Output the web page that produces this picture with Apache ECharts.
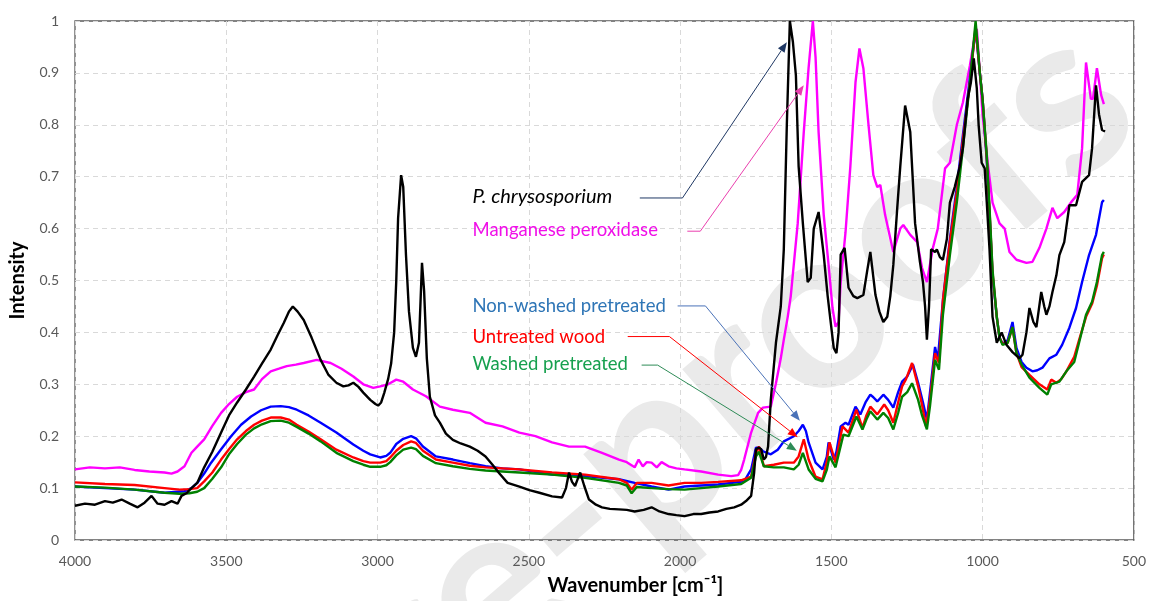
<!DOCTYPE html>
<html>
<head>
<meta charset="utf-8">
<script src="https://cdn.jsdelivr.net/npm/echarts@6/dist/echarts.min.js"></script>
<style>
html,body{margin:0;padding:0;background:#ffffff;}
#chart{width:1149px;height:601px;}
</style>
</head>
<body>
<div id="chart"></div>
<script>
// ---------- DATA ----------
// P. chrysosporium (black)
const chrysoWn = [4000,3967,3934,3901,3875,3846,3819,3793,3770,3747,3727,3704,3681,3661,3648,3632,3615,3596,3573,3546,3517,3491,3464,3435,3408,3382,3353,3330,3310,3293,3280,3264,3244,3218,3188,3162,3136,3113,3096,3080,3063,3047,3024,3007,2998,2988,2978,2965,2955,2945,2938,2932,2922,2915,2906,2896,2883,2873,2863,2853,2846,2837,2827,2810,2794,2774,2751,2725,2695,2669,2643,2620,2597,2570,2531,2498,2465,2423,2390,2377,2367,2357,2347,2340,2330,2317,2301,2278,2258,2232,2202,2176,2150,2120,2094,2068,2038,2012,1985,1956,1930,1903,1874,1847,1821,1798,1782,1765,1755,1749,1739,1732,1723,1716,1709,1700,1683,1667,1657,1647,1637,1627,1617,1608,1594,1578,1568,1558,1542,1525,1512,1502,1492,1483,1476,1469,1456,1443,1427,1414,1394,1381,1371,1354,1341,1328,1315,1305,1295,1282,1272,1256,1239,1223,1207,1197,1190,1184,1177,1170,1157,1151,1141,1131,1118,1108,1092,1075,1065,1049,1039,1029,1019,1013,1003,993,986,977,967,953,937,921,901,878,868,855,845,832,822,806,796,789,779,769,756,746,730,713,691,671,648,638,625,615,605,595];
const chrysoVal = [0.066,0.07,0.068,0.075,0.072,0.078,0.07,0.063,0.072,0.085,0.07,0.068,0.075,0.07,0.085,0.09,0.10,0.11,0.14,0.17,0.207,0.24,0.265,0.29,0.315,0.34,0.367,0.395,0.418,0.44,0.45,0.44,0.424,0.39,0.347,0.318,0.303,0.296,0.298,0.303,0.295,0.284,0.27,0.262,0.259,0.265,0.283,0.31,0.34,0.40,0.50,0.62,0.703,0.68,0.55,0.44,0.37,0.353,0.38,0.534,0.48,0.35,0.276,0.24,0.226,0.205,0.193,0.186,0.18,0.172,0.161,0.145,0.128,0.11,0.103,0.096,0.091,0.084,0.082,0.10,0.13,0.112,0.104,0.115,0.13,0.105,0.078,0.068,0.063,0.06,0.059,0.058,0.055,0.058,0.063,0.055,0.05,0.048,0.046,0.05,0.05,0.053,0.055,0.06,0.063,0.068,0.075,0.085,0.13,0.175,0.178,0.175,0.155,0.16,0.18,0.27,0.38,0.45,0.56,0.8,1.0,0.96,0.895,0.72,0.61,0.497,0.505,0.60,0.632,0.549,0.47,0.42,0.37,0.36,0.40,0.55,0.563,0.486,0.47,0.466,0.472,0.52,0.555,0.472,0.44,0.42,0.43,0.47,0.53,0.64,0.72,0.837,0.786,0.61,0.536,0.497,0.45,0.386,0.45,0.56,0.555,0.56,0.545,0.54,0.58,0.65,0.68,0.72,0.755,0.85,0.88,0.928,0.87,0.80,0.727,0.716,0.65,0.56,0.43,0.38,0.40,0.376,0.362,0.35,0.357,0.40,0.447,0.42,0.41,0.478,0.45,0.434,0.45,0.478,0.51,0.549,0.574,0.645,0.645,0.69,0.703,0.755,0.876,0.82,0.79,0.787];

// Manganese peroxidase (magenta)
const mnpWn = [4000,3951,3901,3852,3803,3754,3704,3681,3661,3638,3615,3596,3573,3546,3517,3491,3464,3435,3408,3382,3353,3326,3300,3270,3244,3201,3155,3119,3080,3047,3014,2991,2965,2938,2915,2883,2840,2794,2751,2695,2643,2587,2531,2478,2423,2367,2314,2258,2202,2176,2150,2137,2123,2110,2094,2077,2061,2038,2012,1985,1930,1874,1831,1808,1798,1788,1765,1742,1726,1700,1683,1667,1657,1644,1634,1611,1591,1575,1561,1552,1542,1525,1509,1496,1486,1476,1469,1453,1437,1420,1407,1394,1377,1361,1348,1338,1322,1295,1272,1262,1239,1216,1200,1184,1164,1148,1124,1108,1085,1065,1042,1026,1019,1009,1000,983,967,944,927,911,888,855,835,812,789,769,753,730,707,687,671,658,642,635,622,608,599];
const mnpVal = [0.136,0.14,0.138,0.14,0.135,0.132,0.13,0.128,0.132,0.142,0.168,0.18,0.194,0.22,0.245,0.262,0.276,0.285,0.29,0.31,0.325,0.33,0.335,0.338,0.341,0.347,0.341,0.33,0.315,0.30,0.293,0.296,0.30,0.309,0.305,0.29,0.277,0.257,0.251,0.245,0.226,0.219,0.207,0.20,0.188,0.18,0.18,0.168,0.155,0.15,0.14,0.155,0.142,0.15,0.149,0.14,0.15,0.142,0.138,0.136,0.132,0.126,0.123,0.125,0.135,0.155,0.207,0.245,0.255,0.257,0.302,0.35,0.386,0.43,0.47,0.61,0.786,0.91,1.0,0.93,0.786,0.626,0.53,0.447,0.411,0.42,0.497,0.593,0.72,0.882,0.947,0.909,0.80,0.703,0.68,0.684,0.626,0.555,0.60,0.607,0.588,0.574,0.524,0.497,0.563,0.60,0.716,0.727,0.80,0.843,0.914,0.97,0.985,0.90,0.82,0.727,0.65,0.61,0.60,0.555,0.54,0.534,0.536,0.563,0.60,0.64,0.62,0.632,0.651,0.665,0.755,0.92,0.85,0.85,0.909,0.857,0.84];

// Non-washed pretreated (blue)
const nonWashedWn = [4000,3901,3803,3704,3638,3615,3596,3573,3550,3517,3484,3451,3418,3385,3353,3320,3293,3267,3228,3188,3136,3080,3047,3024,2991,2971,2958,2938,2915,2889,2873,2850,2807,2751,2695,2643,2587,2531,2423,2314,2202,2150,2094,2038,1985,1930,1874,1788,1765,1749,1739,1726,1700,1677,1657,1624,1608,1594,1584,1575,1552,1529,1515,1509,1492,1483,1469,1453,1443,1420,1404,1387,1371,1361,1348,1328,1312,1295,1279,1266,1249,1230,1213,1197,1184,1174,1157,1148,1131,1108,1085,1065,1042,1023,1009,1000,986,977,967,953,944,934,917,901,888,871,855,835,819,802,779,756,737,713,691,671,648,625,605,599];
const nonWashedVal = [0.103,0.10,0.097,0.091,0.094,0.10,0.11,0.128,0.149,0.175,0.20,0.222,0.238,0.25,0.257,0.258,0.256,0.251,0.24,0.226,0.207,0.184,0.172,0.165,0.159,0.162,0.168,0.185,0.195,0.20,0.196,0.18,0.161,0.155,0.148,0.142,0.138,0.136,0.126,0.123,0.117,0.11,0.103,0.097,0.103,0.105,0.107,0.113,0.136,0.178,0.178,0.171,0.165,0.174,0.19,0.20,0.21,0.222,0.21,0.188,0.149,0.136,0.16,0.188,0.155,0.17,0.219,0.226,0.222,0.257,0.242,0.265,0.28,0.275,0.267,0.28,0.27,0.255,0.285,0.305,0.315,0.338,0.303,0.265,0.232,0.283,0.372,0.347,0.462,0.58,0.68,0.78,0.89,0.985,0.9,0.85,0.73,0.63,0.51,0.43,0.39,0.378,0.385,0.42,0.37,0.343,0.332,0.325,0.327,0.332,0.35,0.357,0.376,0.409,0.447,0.497,0.549,0.588,0.651,0.655];

// Untreated wood (red)
const untreatedWn = [4000,3901,3803,3704,3655,3622,3596,3573,3546,3517,3491,3464,3435,3408,3382,3353,3320,3293,3267,3228,3188,3136,3080,3047,3024,2991,2971,2958,2938,2915,2889,2873,2850,2807,2751,2695,2643,2587,2531,2423,2314,2202,2176,2160,2143,2094,2038,1985,1930,1874,1798,1765,1749,1739,1723,1690,1657,1624,1608,1591,1575,1552,1529,1515,1506,1486,1463,1443,1417,1397,1384,1371,1348,1325,1312,1295,1279,1266,1253,1233,1213,1200,1187,1174,1157,1144,1131,1108,1085,1065,1042,1023,1009,1000,986,977,967,953,944,934,917,901,888,871,845,812,786,773,756,740,723,697,681,658,638,622,605,599];
const untreatedVal = [0.111,0.108,0.106,0.10,0.097,0.098,0.10,0.113,0.13,0.155,0.175,0.194,0.21,0.222,0.23,0.236,0.236,0.232,0.222,0.209,0.194,0.174,0.159,0.152,0.149,0.149,0.152,0.159,0.172,0.183,0.19,0.187,0.172,0.155,0.149,0.143,0.14,0.138,0.136,0.13,0.126,0.117,0.11,0.097,0.11,0.11,0.105,0.11,0.11,0.112,0.115,0.122,0.168,0.18,0.142,0.145,0.149,0.149,0.161,0.194,0.155,0.122,0.117,0.15,0.188,0.149,0.219,0.207,0.251,0.216,0.24,0.257,0.242,0.261,0.25,0.226,0.265,0.296,0.31,0.341,0.296,0.26,0.219,0.27,0.36,0.341,0.462,0.575,0.67,0.77,0.88,0.99,0.9,0.85,0.735,0.635,0.515,0.43,0.39,0.378,0.38,0.41,0.36,0.333,0.318,0.30,0.29,0.309,0.303,0.31,0.325,0.353,0.385,0.43,0.455,0.49,0.543,0.55];

// Washed pretreated (green)
const washedWn = [4000,3901,3803,3704,3655,3622,3596,3573,3546,3517,3491,3464,3435,3408,3382,3353,3320,3293,3267,3228,3188,3136,3080,3047,3024,2991,2971,2958,2938,2915,2889,2873,2850,2807,2751,2695,2643,2587,2531,2423,2314,2202,2176,2160,2143,2094,2038,1985,1930,1874,1798,1765,1749,1739,1723,1690,1657,1624,1608,1594,1575,1552,1529,1515,1506,1486,1460,1443,1417,1397,1384,1371,1348,1328,1312,1295,1279,1266,1249,1233,1213,1200,1184,1174,1157,1144,1131,1108,1085,1065,1042,1023,1009,1000,986,977,967,953,944,934,917,901,888,871,845,812,786,773,746,723,697,681,658,638,622,605,599];
const washedVal = [0.103,0.101,0.097,0.091,0.089,0.09,0.093,0.10,0.118,0.14,0.165,0.185,0.203,0.215,0.223,0.229,0.23,0.226,0.218,0.205,0.19,0.168,0.152,0.145,0.141,0.141,0.144,0.15,0.163,0.174,0.178,0.175,0.162,0.148,0.142,0.137,0.134,0.132,0.13,0.126,0.12,0.11,0.105,0.09,0.102,0.10,0.098,0.097,0.10,0.103,0.108,0.12,0.161,0.17,0.142,0.14,0.14,0.136,0.145,0.168,0.136,0.118,0.113,0.135,0.161,0.14,0.203,0.20,0.238,0.213,0.232,0.248,0.232,0.245,0.235,0.213,0.245,0.276,0.285,0.302,0.27,0.24,0.213,0.257,0.347,0.328,0.434,0.549,0.651,0.755,0.88,1.0,0.9,0.85,0.74,0.64,0.52,0.43,0.39,0.376,0.38,0.41,0.36,0.338,0.313,0.293,0.28,0.30,0.305,0.325,0.343,0.38,0.434,0.459,0.497,0.549,0.555];

// Series names (annotation texts)
const seriesNames = ['P. chrysosporium','Manganese peroxidase','Non-washed pretreated','Untreated wood','Washed pretreated'];

// ---------- STYLE / LAYOUT ----------
const FONT = 'Lato, "Open Sans", sans-serif';
const lineColors = {black:'#000000', magenta:'#ff00ff', blue:'#0000ff', red:'#ff0000', green:'#008000'};

function pairs(wn, val){ return wn.map((w,i)=>[w, val[i]]); }
function lineSeries(name, data, color, z){
  return {type:'line', name, data, showSymbol:false, symbol:'none', z,
          lineStyle:{color, width:2.4}, itemStyle:{color}, animation:false, silent:true};
}

const chart = echarts.init(document.getElementById('chart'), null, {renderer:'canvas'});
const option = {
  backgroundColor:'#ffffff',
  animation:false,
  grid:{left:70, right:14, top:21, bottom:60, show:true, borderColor:'#595959', borderWidth:1.3, backgroundColor:'transparent'},
  xAxis:{
    type:'value', inverse:true, min:500, max:4000, interval:500,
    name:'Wavenumber [cm\u207B\u00B9]', nameLocation:'middle', nameGap:36,
    nameTextStyle:{fontFamily:FONT, fontWeight:'bold', fontSize:20, color:'#000', padding:[0,0,0,62]},
    axisLine:{show:false}, axisTick:{show:false},
    axisLabel:{fontFamily:FONT, fontSize:14, color:'#595959', margin:14, formatter:v=>String(v)},
    splitLine:{show:true, lineStyle:{color:'#d9d9d9', width:1, type:[5,4]}}
  },
  yAxis:{
    type:'value', min:0, max:1, interval:0.1,
    name:'Intensity', nameLocation:'middle', nameGap:47,
    nameTextStyle:{fontFamily:FONT, fontWeight:'bold', fontSize:20, color:'#000'},
    axisLine:{show:false}, axisTick:{show:false},
    axisLabel:{fontFamily:FONT, fontSize:14, color:'#595959', margin:16},
    splitLine:{show:true, lineStyle:{color:'#d9d9d9', width:1, type:[5,4]}}
  },
  series:[
    lineSeries(seriesNames[1], pairs(mnpWn, mnpVal), lineColors.magenta, 2),
    lineSeries(seriesNames[2], pairs(nonWashedWn, nonWashedVal), lineColors.blue, 3),
    lineSeries(seriesNames[3], pairs(untreatedWn, untreatedVal), lineColors.red, 4),
    lineSeries(seriesNames[4], pairs(washedWn, washedVal), lineColors.green, 5),
    lineSeries(seriesNames[0], pairs(chrysoWn, chrysoVal), lineColors.black, 6)
  ]
};
chart.setOption(option);

// ---------- ANNOTATIONS (anchored in data coordinates) ----------
const annotations = [
  {text:seriesNames[0], italic:true, size:20, textColor:'#000000', lineColor:'#1f3864', textAt:[2686,0.661], from:[2133,0.659], elbow:[1992,0.659], tip:[1647,0.959]},
  {text:seriesNames[1], italic:false, size:18.5, textColor:'#f010e8', lineColor:'#ea3fae', textAt:[2686,0.597], from:[1976,0.595], elbow:[1933,0.595], tip:[1591,0.876]},
  {text:seriesNames[2], italic:false, size:18.5, textColor:'#2e75b6', lineColor:'#4a72b8', textAt:[2686,0.451], from:[2008,0.451], elbow:[1916,0.451], tip:[1604,0.230]},
  {text:seriesNames[3], italic:false, size:18.5, textColor:'#ff0000', lineColor:'#ff0000', textAt:[2686,0.392], from:[2173,0.392], elbow:[2035,0.392], tip:[1611,0.198]},
  {text:seriesNames[4], italic:false, size:18.5, textColor:'#16a04e', lineColor:'#2e8b57', textAt:[2686,0.340], from:[2127,0.337], elbow:[2074,0.337], tip:[1614,0.172]}
];

const graphics = [];
// Watermark (behind axes, grid lines and curves)
graphics.push({
  type:'text', x:687, y:423, rotation:0.71, z:-1, silent:true,
  style:{text:'Pre-proofs', font:'bold 230px ' + FONT, fill:'#eaeaea', textAlign:'center', textVerticalAlign:'middle'}
});

const px = p => chart.convertToPixel({gridIndex:0}, p);
annotations.forEach(a=>{
  const t = px(a.textAt), f = px(a.from), e = px(a.elbow), tip = px(a.tip);
  const dx = tip[0]-e[0], dy = tip[1]-e[1], len = Math.hypot(dx,dy);
  const ux = dx/len, uy = dy/len, L = 10, W = 8;
  const bx = tip[0]-ux*L, by = tip[1]-uy*L;
  const nx = -uy, ny = ux;
  graphics.push({type:'text', x:t[0], y:t[1], z:50, silent:true,
    style:{text:a.text, font:(a.italic?'italic ':'') + a.size + 'px ' + FONT, fill:a.textColor, textAlign:'left', textVerticalAlign:'middle'}});
  graphics.push({type:'polyline', z:50, silent:true,
    shape:{points:[f, e, [bx,by]]}, style:{stroke:a.lineColor, lineWidth:1, fill:null}});
  graphics.push({type:'polygon', z:50, silent:true,
    shape:{points:[tip, [bx+nx*W/2, by+ny*W/2], [bx-nx*W/2, by-ny*W/2]]}, style:{fill:a.lineColor, stroke:null}});
});
chart.setOption({graphic:{elements:graphics}});
</script>
</body>
</html>
